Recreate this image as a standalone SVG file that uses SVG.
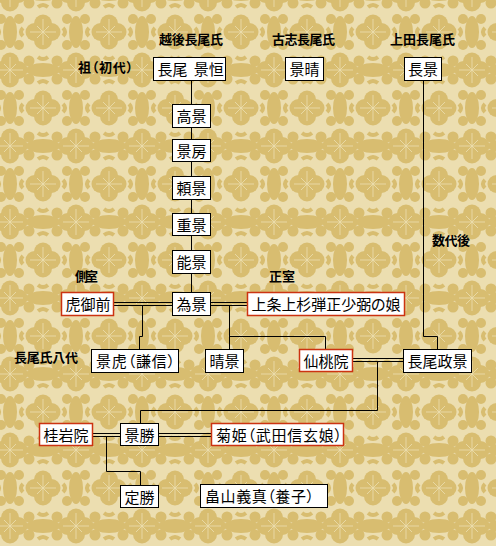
<svg xmlns="http://www.w3.org/2000/svg" xmlns:xlink="http://www.w3.org/1999/xlink" width="496" height="546" viewBox="0 0 496 546">
<style>
.n rect{fill:#fff;stroke:#000;stroke-width:1}
.n.r rect{stroke:#cc3311;stroke-width:1.5}
text{font-family:"Noto Sans CJK JP","Noto Sans CJK SC",sans-serif;fill:#000;font-feature-settings:"palt"}
.n text{font-size:15px}
.lb{font-size:13px;font-weight:bold}
#connectors path{stroke:#000;stroke-width:1;fill:none}
</style>
<defs>
<g id="fl">
<circle cx="0" cy="-8.5" r="9"/><circle cx="0" cy="8.5" r="9"/><circle cx="-8.5" cy="0" r="9"/><circle cx="8.5" cy="0" r="9"/>
<path d="M0,-13V13M-13,0H13M-6,-6L6,6M-6,6L6,-6" stroke="#ECDEB0" stroke-width="0.8" fill="none"/>
</g>
<g id="clv">
<ellipse cx="0" cy="0" rx="7" ry="16"/>
<circle cx="-9" cy="-13" r="5"/><circle cx="9" cy="-13" r="5"/><circle cx="-9" cy="13" r="5"/><circle cx="9" cy="13" r="5"/>
<path d="M-13,-4Q-9,0 -13,4M13,-4Q9,0 13,4" stroke="#D8BD70" stroke-width="4" fill="none"/>
</g>
<g id="clh">
<ellipse cx="0" cy="0" rx="17" ry="7"/>
<circle cx="-14" cy="-9" r="5.5"/><circle cx="14" cy="-9" r="5.5"/><circle cx="-14" cy="9" r="5.5"/><circle cx="14" cy="9" r="5.5"/>
<path d="M-5,-13Q0,-9 5,-13M-5,13Q0,9 5,13" stroke="#D8BD70" stroke-width="4" fill="none"/>
</g>
<pattern id="bg" width="66" height="76" patternUnits="userSpaceOnUse" x="43" y="32">
<rect width="66" height="76" fill="#ECDEB0"/>
<g fill="#D8BD70">
<use href="#fl" x="0" y="0"/><use href="#fl" x="66" y="0"/><use href="#fl" x="0" y="76"/><use href="#fl" x="66" y="76"/><use href="#fl" x="33" y="38"/>
<use href="#clv" x="33" y="0"/><use href="#clv" x="33" y="76"/><use href="#clh" x="0" y="38"/><use href="#clh" x="66" y="38"/>
</g>
</pattern>
</defs>
<rect width="496" height="546" fill="url(#bg)"/>
<g id="labels">
<text class="lb" x="159" y="44" textLength="64">越後長尾氏</text>
<text class="lb" x="272" y="44" textLength="63">古志長尾氏</text>
<text class="lb" x="390" y="44" textLength="65">上田長尾氏</text>
<text class="lb" x="78" y="72" textLength="55">祖（初代）</text>
<text class="lb" x="75" y="281" textLength="23">側室</text>
<text class="lb" x="269" y="281" textLength="26">正室</text>
<text class="lb" x="432" y="245" textLength="38">数代後</text>
<text class="lb" x="14" y="362" textLength="64">長尾氏八代</text>
</g>
<g id="connectors">
<path d="M191.5,80.5V292.5"/>
<path d="M423.5,80.5V336.5H437.5V349.5"/>
<path d="M113.5,302.5H247.5M113.5,305.5H247.5"/>
<path d="M142.5,305.5V336.5H139.5V349.5"/>
<path d="M229.5,305.5V349.5M229.5,336.5H325.5V349.5"/>
<path d="M352.5,358.5H403.5M352.5,361.5H403.5"/>
<path d="M377.5,361.5V410.5H140.5V423.5"/>
<path d="M92.5,433.5H211.5M92.5,436.5H211.5"/>
<path d="M106.5,436.5V471.5H140.5V485.5"/>
</g>
<g id="n-kagetsune" class="n"><rect x="153.5" y="57.5" width="72" height="23"/><text x="157.5" y="75" style="word-spacing:3px">長尾 景恒</text></g>
<g id="n-kageharu-koshi" class="n"><rect x="285.5" y="57.5" width="38" height="23"/><text x="289.5" y="75">景晴</text></g>
<g id="n-nagakage" class="n"><rect x="404.5" y="57.5" width="37" height="23"/><text x="408" y="75">長景</text></g>
<g id="n-takakage" class="n"><rect x="172.5" y="104.5" width="38" height="23"/><text x="176.5" y="122">高景</text></g>
<g id="n-kagefusa" class="n"><rect x="172.5" y="139.5" width="38" height="22"/><text x="176.5" y="156.5">景房</text></g>
<g id="n-yorikage" class="n"><rect x="172.5" y="176.5" width="38" height="23"/><text x="176.5" y="194">頼景</text></g>
<g id="n-shigekage" class="n"><rect x="172.5" y="213.5" width="38" height="22"/><text x="176.5" y="230.5">重景</text></g>
<g id="n-yoshikage" class="n"><rect x="172.5" y="250.5" width="38" height="23"/><text x="176.5" y="268">能景</text></g>
<g id="n-tamekage" class="n"><rect x="172.5" y="292.5" width="38" height="23"/><text x="176.5" y="310">為景</text></g>
<g id="n-toragozen" class="n r"><rect x="61.5" y="292.5" width="52" height="23"/><text x="65.5" y="310">虎御前</text></g>
<g id="n-uesugi-daughter" class="n r"><rect x="247.5" y="292.5" width="157" height="23"/><text x="251.5" y="310" textLength="149">上条上杉弾正少弼の娘</text></g>
<g id="n-kagetora" class="n"><rect x="91.5" y="349.5" width="87" height="23"/><text x="96" y="367" textLength="79">景虎（謙信）</text></g>
<g id="n-harukage" class="n"><rect x="205.5" y="349.5" width="38" height="23"/><text x="209.5" y="367">晴景</text></g>
<g id="n-sentoin" class="n r"><rect x="299.5" y="349.5" width="53" height="22"/><text x="303.5" y="366.5">仙桃院</text></g>
<g id="n-masakage" class="n"><rect x="403.5" y="349.5" width="68" height="23"/><text x="407.5" y="367">長尾政景</text></g>
<g id="n-keiganin" class="n r"><rect x="39.5" y="423.5" width="53" height="22"/><text x="43.5" y="440.5">桂岩院</text></g>
<g id="n-kagekatsu" class="n"><rect x="120.5" y="423.5" width="38" height="22"/><text x="124.5" y="440.5">景勝</text></g>
<g id="n-kikuhime" class="n r"><rect x="211.5" y="423.5" width="132" height="22"/><text x="216" y="440.5" textLength="126">菊姫（武田信玄娘）</text></g>
<g id="n-sadakatsu" class="n"><rect x="120.5" y="485.5" width="38" height="22"/><text x="124.5" y="502.5">定勝</text></g>
<g id="n-yoshizane" class="n"><rect x="200.5" y="484.5" width="127" height="23"/><text x="205" y="502" textLength="109">畠山義真（養子）</text></g>
</svg>
